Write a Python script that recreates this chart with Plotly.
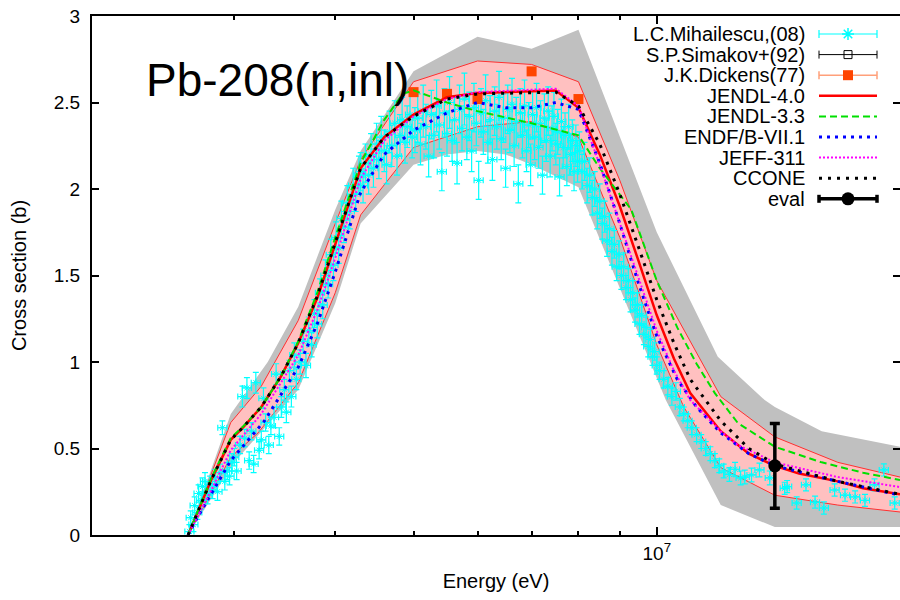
import math
import plotly.graph_objects as go

MEV = 1e6
FONT = "Liberation Sans, Arial, Helvetica, sans-serif"

# ---------------- experimental data (energies in MeV, cross sections in b) -------------
# L.C. Mihailescu et al. (2008), listed by energy region
mih_e_a = [2.64, 2.65, 2.67, 2.68, 2.70, 2.71, 2.73, 2.74, 2.76, 2.78, 2.80, 2.82, 2.84, 2.86, 2.88, 2.90, 2.92, 2.94,
           2.96, 2.98]
mih_xs_a = [0.02, 0.10, 0.06, 0.17, 0.13, 0.24, 0.20, 0.28, 0.31, 0.23, 0.29, 0.26, 0.33, 0.25, 0.36, 0.62, 0.31, 0.37,
            0.34, 0.42]
mih_err_a = [0.04, 0.04, 0.04, 0.05, 0.04, 0.05, 0.05, 0.05, 0.05, 0.05, 0.05, 0.05, 0.05, 0.05, 0.05, 0.04, 0.05, 0.05,
             0.05, 0.05]

mih_e_b = [3.00, 3.02, 3.05, 3.07, 3.09, 3.11, 3.13, 3.15, 3.17, 3.19, 3.22, 3.24, 3.26, 3.28, 3.31, 3.33, 3.36, 3.38,
           3.41, 3.43, 3.46, 3.48, 3.51, 3.53, 3.56, 3.58]
mih_xs_b = [0.45, 0.37, 0.52, 0.80, 0.56, 0.85, 0.43, 0.60, 0.41, 0.88, 0.49, 0.55, 0.79, 0.65, 0.52, 0.63, 0.68, 0.93,
            0.57, 0.74, 0.84, 0.71, 0.95, 0.80, 1.04, 0.90]
mih_err_b = [0.05, 0.05, 0.05, 0.06, 0.05, 0.06, 0.05, 0.05, 0.05, 0.06, 0.05, 0.05, 0.06, 0.05, 0.05, 0.05, 0.06, 0.06,
             0.05, 0.06, 0.06, 0.06, 0.06, 0.06, 0.07, 0.06]

mih_e_c = [3.62, 3.65, 3.68, 3.71, 3.74, 3.77, 3.80, 3.83, 3.86, 3.89, 3.92, 3.95, 3.98, 4.01, 4.04, 4.07, 4.10, 4.14,
           4.17, 4.21, 4.24, 4.28]
mih_xs_c = [1.00, 1.12, 0.98, 1.18, 1.10, 1.28, 1.22, 1.40, 1.33, 1.50, 1.45, 1.62, 1.56, 1.72, 1.66, 1.83, 1.78, 1.92,
            1.87, 2.02, 1.97, 2.08]
mih_err_c = [0.07, 0.07, 0.07, 0.08, 0.07, 0.08, 0.08, 0.08, 0.08, 0.09, 0.08, 0.09, 0.09, 0.09, 0.09, 0.10, 0.09, 0.10,
             0.10, 0.10, 0.10, 0.11]

mih_e_d = [4.30, 4.33, 4.36, 4.40, 4.43, 4.46, 4.50, 4.53, 4.56, 4.60, 4.63, 4.67, 4.70, 4.74, 4.77, 4.81, 4.84, 4.88,
           4.91, 4.95, 4.98]
mih_xs_d = [2.10, 2.02, 2.15, 2.08, 2.20, 2.12, 2.26, 2.17, 2.30, 2.22, 2.14, 2.33, 2.25, 2.38, 2.19, 2.31, 2.40, 2.27,
            2.36, 2.43, 2.30]
mih_err_d = [0.11, 0.10, 0.11, 0.11, 0.12, 0.11, 0.12, 0.11, 0.12, 0.12, 0.11, 0.12, 0.12, 0.13, 0.11, 0.12, 0.13, 0.12,
             0.12, 0.13, 0.12]

mih_e_e = [5.02, 5.06, 5.10, 5.14, 5.18, 5.22, 5.26, 5.30, 5.34, 5.38, 5.42, 5.46, 5.50, 5.54, 5.58, 5.62, 5.66, 5.70,
           5.74, 5.78, 5.82, 5.86, 5.90, 5.94, 5.98, 6.02, 6.06, 6.10, 6.14, 6.18, 6.22, 6.26, 6.30, 6.34, 6.38, 6.42,
           6.46, 6.50, 6.54, 6.58, 6.62, 6.66, 6.70, 6.74, 6.78, 6.82, 6.86, 6.90, 6.94, 6.98, 7.02, 7.06, 7.10, 7.14,
           7.18, 7.22, 7.26, 7.30, 7.34, 7.38, 7.42, 7.46, 7.50, 7.54, 7.58, 7.62, 7.66, 7.70, 7.74, 7.78, 7.82, 7.86,
           7.90, 7.94, 7.98]
mih_xs_e = [2.34, 2.41, 2.26, 2.45, 2.36, 2.19, 2.43, 2.31, 2.48, 2.37,
            2.10, 2.44, 2.32, 2.50, 2.28, 2.40, 2.15, 2.46, 2.35, 2.52,
            2.30, 2.42, 2.22, 2.47, 2.38, 2.05, 2.44, 2.33, 2.51, 2.27,
            2.40, 2.17, 2.45, 2.36, 2.53, 2.29, 2.41, 2.12, 2.46, 2.34,
            2.49, 2.25, 2.39, 2.03, 2.44, 2.31, 2.48, 2.22, 2.37, 2.14,
            2.43, 2.30, 2.47, 2.24, 2.38, 2.08, 2.41, 2.28, 2.45, 2.19,
            2.35, 2.42, 2.26, 2.33, 2.07, 2.39, 2.24, 2.31, 2.13, 2.36,
            2.20, 2.28, 2.10, 2.25, 2.16]
mih_err_e = [0.13, 0.14, 0.12, 0.15, 0.13, 0.12, 0.14, 0.13, 0.15, 0.14,
             0.11, 0.14, 0.13, 0.15, 0.12, 0.14, 0.12, 0.14, 0.13, 0.15,
             0.13, 0.14, 0.12, 0.14, 0.13, 0.11, 0.14, 0.13, 0.15, 0.12,
             0.14, 0.12, 0.14, 0.13, 0.15, 0.12, 0.14, 0.11, 0.14, 0.13,
             0.15, 0.12, 0.14, 0.11, 0.14, 0.13, 0.15, 0.12, 0.13, 0.12,
             0.14, 0.13, 0.14, 0.12, 0.13, 0.11, 0.14, 0.12, 0.14, 0.12,
             0.13, 0.14, 0.12, 0.13, 0.11, 0.13, 0.12, 0.13, 0.11, 0.13,
             0.12, 0.12, 0.11, 0.12, 0.12]

mih_e_f = [8.02, 8.08, 8.14, 8.20, 8.26, 8.32, 8.38, 8.44, 8.50, 8.56, 8.62, 8.68, 8.74, 8.80, 8.86, 8.92, 8.98, 9.04,
           9.10, 9.16, 9.22, 9.28, 9.34, 9.40, 9.46, 9.52, 9.58, 9.64, 9.70, 9.76, 9.82, 9.88, 9.94, 10.0]
mih_xs_f = [2.22, 2.10, 2.16, 2.02, 2.08, 1.95, 2.00, 1.86, 1.93, 1.80, 1.84, 1.70, 1.77, 1.64, 1.68, 1.55, 1.62, 1.50,
            1.55, 1.43, 1.47, 1.36, 1.40, 1.30, 1.33, 1.22, 1.27, 1.16, 1.20, 1.09, 1.13, 1.03, 1.06, 0.98]
mih_err_f = [0.11, 0.10, 0.11, 0.10, 0.10, 0.10, 0.10, 0.09, 0.10, 0.09, 0.09, 0.09, 0.09, 0.08, 0.08, 0.08, 0.08, 0.08,
             0.08, 0.07, 0.07, 0.07, 0.07, 0.07, 0.07, 0.06, 0.06, 0.06, 0.06, 0.06, 0.06, 0.05, 0.05, 0.05]

mih_e_g = [10.08, 10.2, 10.32, 10.44, 10.56, 10.68, 10.8, 10.92, 11.05, 11.2, 11.35, 11.5, 11.65, 11.8, 11.95, 12.1,
           12.3, 12.5, 12.7, 12.85, 13.1, 13.4, 13.8]
mih_xs_g = [0.95, 0.90, 0.86, 0.80, 0.83, 0.74, 0.70, 0.66, 0.62, 0.58, 0.54, 0.50, 0.47, 0.43, 0.40, 0.37, 0.35, 0.38,
            0.33, 0.335, 0.347, 0.376, 0.33]
mih_err_g = [0.05, 0.05, 0.05, 0.05, 0.05, 0.05, 0.04, 0.04, 0.04, 0.04, 0.04, 0.04, 0.04, 0.04, 0.04, 0.04, 0.04, 0.04,
             0.04, 0.04, 0.04, 0.04, 0.04]

mih_e_h = [14.4, 14.5, 14.9, 15.3, 15.7, 16.1, 16.6, 17.1, 17.6, 18.1, 18.6, 19.1, 19.7]
mih_xs_h = [0.27, 0.28, 0.185, 0.29, 0.19, 0.156, 0.26, 0.23, 0.22, 0.20, 0.29, 0.376, 0.185]
mih_err_h = [0.035, 0.035, 0.035, 0.035, 0.035, 0.035, 0.035, 0.035, 0.035, 0.035, 0.035, 0.035, 0.035]

mih_e = mih_e_a + mih_e_b + mih_e_c + mih_e_d + mih_e_e + mih_e_f + mih_e_g + mih_e_h
mih_xs = mih_xs_a + mih_xs_b + mih_xs_c + mih_xs_d + mih_xs_e + mih_xs_f + mih_xs_g + mih_xs_h
mih_err = mih_err_a + mih_err_b + mih_err_c + mih_err_d + mih_err_e + mih_err_f + mih_err_g + mih_err_h
assert len(mih_e) == len(mih_xs) == len(mih_err)

# J.K. Dickens (1977)
dick_e = [5.0, 5.5, 6.0, 7.0, 8.0]
dick_xs = [2.56, 2.55, 2.52, 2.68, 2.52]

# S.P. Simakov et al. (1992) - no points inside the plotted window
sim_e = []
sim_xs = []

# Evaluated value with its uncertainty
eval_e = [14.0]
eval_xs = [0.40]
eval_err = [0.245]

# ---------------- evaluated libraries ----------------
jendl40_e = [2.63, 2.81, 2.97, 3.08, 3.24, 3.43, 3.60, 3.8, 4.0, 4.3, 4.6, 5.0, 5.5, 6.0, 7.5, 8.0, 8.5, 9.0, 9.5,
             10.0, 10.5, 11.0, 12.0, 13.0, 14.0, 15.0, 16.75, 18.0, 20.0]
jendl40_xs = [0.0, 0.32, 0.55, 0.625, 0.74, 0.92, 1.11, 1.37, 1.68, 2.12, 2.30, 2.43, 2.53, 2.555, 2.57, 2.47, 2.20, 1.90,
              1.58, 1.27, 1.02, 0.82, 0.60, 0.47, 0.40, 0.355, 0.31, 0.27, 0.235]

jendl33_e = [2.63, 2.81, 2.97, 3.08, 3.24, 3.43, 3.6, 3.8, 4.0, 4.3, 4.6, 4.85, 5.0, 5.5, 6.0, 7.0, 8.0, 8.5, 9.3,
             10.0, 10.6, 11.2, 11.8, 12.6, 14.0, 16.0, 18.0, 20.0]
jendl33_xs = [0.0, 0.33, 0.56, 0.63, 0.74, 0.92, 1.12, 1.40, 1.72, 2.15, 2.40, 2.55, 2.57, 2.50, 2.45, 2.38, 2.31, 2.12,
              1.88, 1.47, 1.20, 0.99, 0.82, 0.647, 0.51, 0.42, 0.36, 0.318]

endf71_e = [2.63, 2.70, 2.97, 3.27, 3.6, 3.8, 4.0, 4.3, 4.6, 5.0, 5.5, 6.0, 6.5, 7.0, 7.5, 8.0, 8.5, 9.0, 9.5, 10.0,
            10.6, 11.2, 12.0, 13.0, 14.0, 16.75, 20.0]
endf71_xs = [0.0, 0.10, 0.43, 0.66, 0.97, 1.22, 1.52, 1.98, 2.20, 2.34, 2.44, 2.50, 2.47, 2.47, 2.50, 2.46, 2.15, 1.80,
             1.45, 1.15, 0.90, 0.74, 0.59, 0.47, 0.40, 0.31, 0.23]

jeff311_e = [2.63, 2.81, 2.97, 3.24, 3.6, 3.8, 4.0, 4.3, 4.6, 5.0, 5.5, 6.0, 7.5, 8.0, 8.5, 9.0, 9.5, 10.0, 10.5, 11.0,
             12.0, 12.6, 14.0, 16.75, 20.0]
jeff311_xs = [0.0, 0.26, 0.49, 0.70, 1.04, 1.30, 1.60, 2.06, 2.28, 2.42, 2.52, 2.56, 2.58, 2.48, 2.14, 1.80, 1.48, 1.18,
              0.95, 0.78, 0.60, 0.52, 0.42, 0.335, 0.277]

ccone_e = [2.63, 2.81, 2.97, 3.08, 3.24, 3.43, 3.6, 3.8, 4.0, 4.3, 4.6, 5.0, 5.5, 6.0, 7.5, 8.0, 8.5, 9.0, 9.5, 10.0,
           10.5, 11.0, 12.0, 13.0, 14.0, 16.75, 20.0]
ccone_xs = [0.0, 0.32, 0.55, 0.625, 0.74, 0.92, 1.11, 1.38, 1.69, 2.12, 2.30, 2.42, 2.52, 2.55, 2.56, 2.48, 2.26, 1.97,
            1.66, 1.36, 1.11, 0.90, 0.66, 0.50, 0.41, 0.31, 0.235]

# JENDL-4.0 uncertainty band
j40_hi_e = [2.63, 2.97, 3.24, 3.6, 4.0, 4.3, 5.0, 6.0, 7.0, 8.0, 9.0, 10.0, 12.0, 14.0, 16.75, 20.0]
j40_hi = [0.0, 0.65, 0.86, 1.24, 1.80, 2.17, 2.62, 2.74, 2.72, 2.62, 2.05, 1.47, 0.80, 0.567, 0.42, 0.335]
j40_lo_e = [2.63, 2.97, 3.21, 3.6, 4.0, 4.3, 5.0, 6.0, 7.0, 8.0, 9.0, 10.0, 10.8, 12.0, 14.0, 16.75, 20.0]
j40_lo = [0.0, 0.45, 0.59, 0.88, 1.40, 1.85, 2.24, 2.36, 2.39, 2.30, 1.72, 1.10, 0.74, 0.39, 0.23, 0.173, 0.133]

# Covariance-based envelope (gray)
env_hi_e = [2.63, 2.97, 3.3, 3.6, 4.0, 4.3, 5.0, 6.0, 7.0, 8.0, 10.0, 11.9, 13.6, 14.0, 16.0, 20.0]
env_hi = [0.0, 0.70, 1.0, 1.32, 1.88, 2.22, 2.68, 2.88, 2.81, 2.92, 1.75, 1.03, 0.78, 0.74, 0.60, 0.51]
env_lo_e = [2.63, 3.0, 3.6, 4.0, 4.3, 5.0, 5.5, 6.0, 6.5, 7.0, 8.0, 10.26, 12.0, 14.0, 20.0]
env_lo = [0.0, 0.42, 0.84, 1.34, 1.80, 2.14, 2.20, 2.22, 2.20, 2.14, 2.01, 0.78, 0.173, 0.046, 0.046]

# Key entries
legend_labels = ["L.C.Mihailescu,(08)", "S.P.Simakov+(92)", "J.K.Dickens(77)", "JENDL-4.0", "JENDL-3.3",
                 "ENDF/B-VII.1", "JEFF-311", "CCONE", "eval"]
y_tick_vals = [0, 0.5, 1, 1.5, 2, 2.5, 3]
y_tick_text = ["0", "0.5", "1", "1.5", "2", "2.5", "3"]


def ev(values):
    return [v * MEV for v in values]


def polygon(lo_e, lo, hi_e, hi):
    xs = ev(hi_e) + ev(list(reversed(lo_e)))
    ys = list(hi) + list(reversed(lo))
    return xs, ys


fig = go.Figure()

# envelope
gx, gy = polygon(env_lo_e, env_lo, env_hi_e, env_hi)
fig.add_trace(go.Scatter(x=gx, y=gy, mode="lines", fill="toself", fillcolor="#C0C0C0",
                         line=dict(width=0), hoverinfo="skip"))
# JENDL-4.0 band
bx, by = polygon(j40_lo_e, j40_lo, j40_hi_e, j40_hi)
fig.add_trace(go.Scatter(x=bx, y=by, mode="lines", fill="toself", fillcolor="#FFC0C0",
                         line=dict(width=0), hoverinfo="skip"))
fig.add_trace(go.Scatter(x=ev(j40_hi_e), y=j40_hi, mode="lines", line=dict(color="#FF3030", width=1)))
fig.add_trace(go.Scatter(x=ev(j40_lo_e), y=j40_lo, mode="lines", line=dict(color="#FF3030", width=1)))

CYAN = "#00FFFF"
fig.add_trace(go.Scatter(
    x=ev(mih_e), y=mih_xs, mode="markers",
    marker=dict(symbol="asterisk-open", size=6, color=CYAN, line=dict(color=CYAN, width=1)),
    error_y=dict(type="data", array=mih_err, color=CYAN, thickness=1.2, width=3),
    error_x=dict(type="percent", value=1.3, color=CYAN, thickness=1.2, width=3),
))
fig.add_trace(go.Scatter(x=ev(sim_e), y=sim_xs, mode="markers",
                         marker=dict(symbol="square-open", size=8, color="black")))
fig.add_trace(go.Scatter(x=ev(dick_e), y=dick_xs, mode="markers",
                         marker=dict(symbol="square", size=10, color="#FF4500")))

fig.add_trace(go.Scatter(x=ev(jendl40_e), y=jendl40_xs, mode="lines", line=dict(color="#FF0000", width=2.5)))
fig.add_trace(go.Scatter(x=ev(jendl33_e), y=jendl33_xs, mode="lines",
                         line=dict(color="#00E000", width=2, dash="7px,4px")))
fig.add_trace(go.Scatter(x=ev(endf71_e), y=endf71_xs, mode="lines",
                         line=dict(color="#0000FF", width=3, dash="3px,5px")))
fig.add_trace(go.Scatter(x=ev(jeff311_e), y=jeff311_xs, mode="lines",
                         line=dict(color="#FF00FF", width=2, dash="2px,2px")))
fig.add_trace(go.Scatter(x=ev(ccone_e), y=ccone_xs, mode="lines",
                         line=dict(color="#000000", width=3, dash="3px,6px")))

fig.add_trace(go.Scatter(
    x=ev(eval_e), y=eval_xs, mode="markers",
    marker=dict(symbol="circle", size=13, color="black"),
    error_y=dict(type="data", array=eval_err, color="black", thickness=3.5, width=5),
))

# mirrored frame axes (top / right)
fig.add_trace(go.Scatter(x=[None], y=[None], xaxis="x2", yaxis="y2", showlegend=False))

# ---------------- hand-drawn key (in pixel-like coordinates of the plot area) ----------------
ROW0, ROWSTEP = 34.0, 20.6
SX0, SX1, SXM = 819, 877, 848
rows = [ROW0 + i * ROWSTEP for i in range(len(legend_labels))]


def key_line(y, color, width, dash="solid", caps=False, cap_w=1):
    fig.add_trace(go.Scatter(x=[SX0, SX1], y=[y, y], xaxis="x3", yaxis="y3", mode="lines",
                             line=dict(color=color, width=width, dash=dash), hoverinfo="skip"))
    if caps:
        fig.add_trace(go.Scatter(x=[SX0, SX0, None, SX1, SX1], y=[y - 4, y + 4, None, y - 4, y + 4],
                                 xaxis="x3", yaxis="y3", mode="lines",
                                 line=dict(color=color, width=cap_w), hoverinfo="skip"))


key_line(rows[0], CYAN, 1.2, caps=True, cap_w=1.2)
fig.add_trace(go.Scatter(x=[SXM], y=[rows[0]], xaxis="x3", yaxis="y3", mode="markers",
                         marker=dict(symbol="asterisk-open", size=10, color=CYAN,
                                     line=dict(color=CYAN, width=1.5))))
key_line(rows[1], "black", 1, caps=True)
fig.add_trace(go.Scatter(x=[SXM], y=[rows[1]], xaxis="x3", yaxis="y3", mode="markers",
                         marker=dict(symbol="square-open", size=8, color="black", line=dict(width=1))))
key_line(rows[2], "#FFA07A", 1.5, caps=True, cap_w=1.5)
fig.add_trace(go.Scatter(x=[SXM], y=[rows[2]], xaxis="x3", yaxis="y3", mode="markers",
                         marker=dict(symbol="square", size=10, color="#FF4500")))
key_line(rows[3], "#FF0000", 2.5)
key_line(rows[4], "#00E000", 2, "7px,4px")
key_line(rows[5], "#0000FF", 3, "3px,5px")
key_line(rows[6], "#FF00FF", 2, "2px,2px")
key_line(rows[7], "#000000", 3, "3px,6px")
key_line(rows[8], "#000000", 3.5, caps=True, cap_w=3.5)
fig.add_trace(go.Scatter(x=[SXM], y=[rows[8]], xaxis="x3", yaxis="y3", mode="markers",
                         marker=dict(symbol="circle", size=13, color="black")))

annotations = []
for lab, y in zip(legend_labels, rows):
    annotations.append(dict(x=807, y=y, xref="x3", yref="y3", text=lab, showarrow=False,
                            xanchor="right", yanchor="middle", font=dict(family=FONT, size=20, color="black")))
annotations.append(dict(x=144, y=80, xref="x3", yref="y3", text="Pb-208(n,inl)", showarrow=False,
                        xanchor="left", yanchor="middle", font=dict(family=FONT, size=46, color="black")))

XR = [math.log10(2e6), math.log10(2e7)]
minor_vals = [3e6, 4e6, 5e6, 6e6, 7e6, 8e6, 9e6]

xcommon = dict(type="log", range=XR, tickvals=[1e7], ticks="inside", ticklen=8, tickwidth=1.5,
               tickcolor="black", showgrid=False, zeroline=False, automargin=False,
               minor=dict(tickvals=minor_vals, ticks="inside", ticklen=4, tickwidth=1.5, tickcolor="black",
                          showgrid=False),
               showline=True, linecolor="black", linewidth=2)
ycommon = dict(range=[0, 3], tickvals=y_tick_vals, ticks="inside", ticklen=7, tickwidth=1.5, tickcolor="black",
               showgrid=False, zeroline=False, automargin=False)

fig.update_layout(
    width=900, height=600,
    margin=dict(l=92, r=0, t=16, b=65),
    paper_bgcolor="white", plot_bgcolor="white",
    showlegend=False,
    font=dict(family=FONT, color="black"),
    xaxis=dict(**xcommon, ticktext=["10<sup>7</sup>"], tickfont=dict(size=19),
               title=dict(text="Energy (eV)", font=dict(size=20), standoff=11)),
    xaxis2=dict(**xcommon, overlaying="x", side="top", anchor="y", showticklabels=False),
    yaxis=dict(**ycommon, ticktext=y_tick_text, showline=True, linecolor="black", linewidth=2,
               tickfont=dict(size=19), ticklabelstandoff=6,
               title=dict(text="Cross section (b)", font=dict(size=20), standoff=22)),
    yaxis2=dict(**ycommon, overlaying="y", side="right", anchor="x", showticklabels=False, showline=False),
    xaxis3=dict(range=[92, 900], overlaying="x", visible=False, automargin=False),
    yaxis3=dict(range=[535, 16], overlaying="y", visible=False, automargin=False),
    annotations=annotations,
)

fig.write_html("out.html")
